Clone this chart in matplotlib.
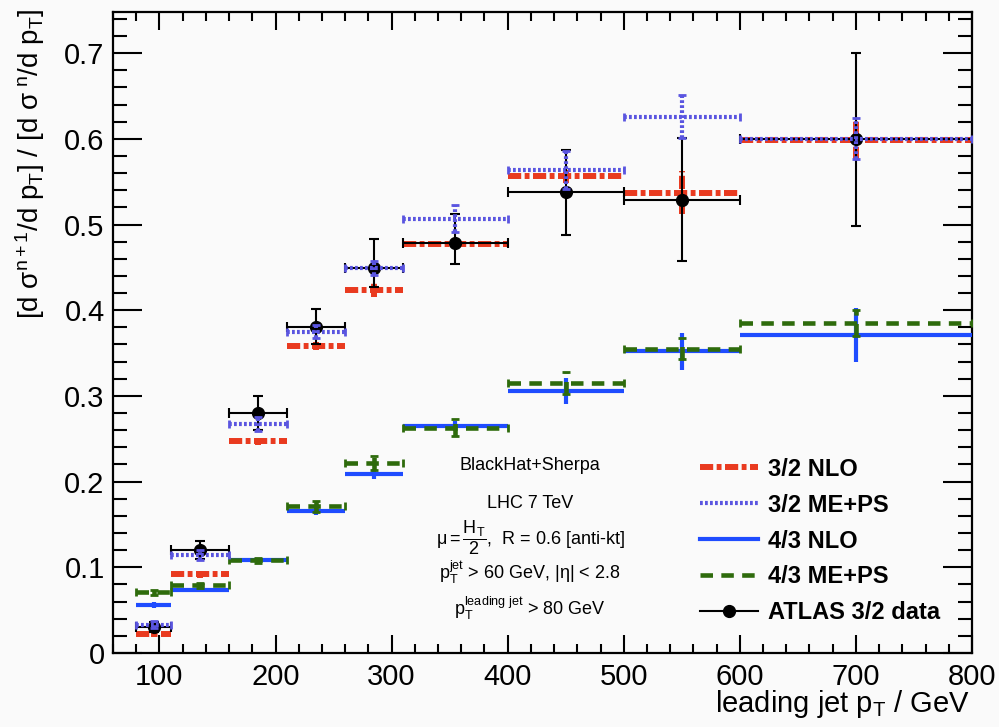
import numpy as np
import matplotlib
matplotlib.use("Agg")
import matplotlib.pyplot as plt
from matplotlib.lines import Line2D
from matplotlib.ticker import MultipleLocator, FuncFormatter

plt.rcParams['font.family'] = ['Liberation Sans', 'DejaVu Sans']
plt.rcParams['mathtext.fontset'] = 'custom'
plt.rcParams['mathtext.rm'] = 'Liberation Sans'
plt.rcParams['mathtext.it'] = 'Liberation Sans:italic'
plt.rcParams['mathtext.bf'] = 'Liberation Sans:bold'
plt.rcParams['lines.scale_dashes'] = False

# bins in leading jet pT (GeV)
bin_lo = [80, 110, 160, 210, 260, 310, 400, 500, 600]
bin_hi = [110, 160, 210, 260, 310, 400, 500, 600, 800]

# 3/2 ratio, NLO
nlo32 = [0.022, 0.092, 0.247, 0.358, 0.424, 0.477, 0.557, 0.537, 0.599]
nlo32_err = [0.003, 0.004, 0.004, 0.005, 0.008, 0.005, 0.008, 0.025, 0.024]
# 3/2 ratio, ME+PS
meps32 = [0.033, 0.114, 0.267, 0.375, 0.449, 0.507, 0.564, 0.626, 0.600]
meps32_err = [0.004, 0.006, 0.008, 0.008, 0.008, 0.016, 0.022, 0.025, 0.024]
# 4/3 ratio, NLO
nlo43 = [0.056, 0.074, 0.108, 0.166, 0.209, 0.265, 0.306, 0.352, 0.371]
nlo43_err = [0.003, 0.003, 0.003, 0.005, 0.006, 0.006, 0.015, 0.022, 0.032]
# 4/3 ratio, ME+PS
meps43 = [0.071, 0.079, 0.108, 0.171, 0.222, 0.263, 0.315, 0.355, 0.385]
meps43_err = [0.003, 0.003, 0.003, 0.006, 0.008, 0.010, 0.013, 0.012, 0.015]
# ATLAS 3/2 data
atlas = [0.030, 0.120, 0.280, 0.380, 0.449, 0.478, 0.538, 0.529, 0.600]
atlas_up = [0.006, 0.011, 0.020, 0.022, 0.034, 0.034, 0.049, 0.072, 0.100]
atlas_dn = [0.006, 0.010, 0.020, 0.020, 0.022, 0.024, 0.050, 0.072, 0.102]

lo = np.array(bin_lo)
hi = np.array(bin_hi)
xc = (lo + hi) / 2
xw = (hi - lo) / 2

RED = '#e93a1f'
PURPLE = '#5a55e0'
BLUE = '#1f4cff'
GREEN = '#2e6b0c'

red_ls = (0, (9.5, 2.5, 3.5, 2.5))
pur_ls = (0, (2.0, 1.6))
grn_ls = (0, (9.0, 6.0))

fig = plt.figure(figsize=(9.99, 7.27), dpi=100, facecolor='#fafafa')
ax = fig.add_axes([113 / 999, 74 / 727, 859 / 999, 641 / 727])
ax.set_facecolor('#fafafa')


def theory(y, err, color, lw, ls, cap, z):
    eb = ax.errorbar(xc, y, xerr=xw, yerr=err, fmt='none', ecolor=color,
                     elinewidth=lw, capsize=cap, capthick=2.0, zorder=z)
    for col in eb[2]:
        col.set_linestyle(ls)
    return eb


theory(nlo32, nlo32_err, RED, 4.3, red_ls, 0, 2)
theory(nlo43, nlo43_err, BLUE, 3.0, 'solid', 0, 3)
theory(meps43, meps43_err, GREEN, 3.3, grn_ls, 3, 4)
ax.errorbar(xc, atlas, xerr=xw, yerr=[atlas_dn, atlas_up], fmt='o', color='black',
            ms=8.5, elinewidth=1.5, capsize=3.5, capthick=1.5, zorder=5)
theory(meps32, meps32_err, PURPLE, 3.0, pur_ls, 3, 6)

ax.set_xlim(60, 800)
ax.set_ylim(0, 0.748)
ax.xaxis.set_major_locator(MultipleLocator(100))
ax.xaxis.set_minor_locator(MultipleLocator(20))
ax.yaxis.set_major_locator(MultipleLocator(0.1))
ax.yaxis.set_minor_locator(MultipleLocator(0.02))
ax.yaxis.set_major_formatter(FuncFormatter(lambda v, p: '0' if abs(v) < 1e-9 else '%.1f' % v))
ax.tick_params(axis='both', which='both', direction='in', top=True, right=True,
               width=1.5, labelsize=21, colors='black')
ax.tick_params(axis='x', which='major', length=13, pad=7)
ax.tick_params(axis='x', which='minor', length=6.5)
ax.tick_params(axis='y', which='major', length=21, pad=6)
ax.tick_params(axis='y', which='minor', length=10)
for s in ax.spines.values():
    s.set_linewidth(1.6)

# axis titles
fig.text(970 / 999, 1 - 712 / 727, r'leading jet p$_\mathrm{T}$ / GeV', fontsize=21,
         ha='right', va='baseline')
fig.text(30 / 999, 1 - 8 / 727,
         r'[d $\mathrm{\sigma}^\mathrm{n+1}$/d p$_\mathrm{T}$] / [d $\mathrm{\sigma}^\mathrm{\ n}$/d p$_\mathrm{T}$]',
         fontsize=20, rotation=90, ha='center', va='top')

# process info
info_x = 530 / 999
fig.text(info_x, 1 - 465 / 727, 'BlackHat+Sherpa', fontsize=13, ha='center', va='center')
fig.text(info_x, 1 - 503 / 727, 'LHC 7 TeV', fontsize=13, ha='center', va='center')
fig.text(info_x, 1 - 538 / 727, r'$\mathrm{\mu} = \dfrac{\mathrm{H_T}}{2}$,  R = 0.6 [anti-kt]',
         fontsize=13, ha='center', va='center')
fig.text(info_x, 1 - 572 / 727, r'p$_\mathrm{T}^\mathrm{jet}$ > 60 GeV, |$\mathrm{\eta}$| < 2.8',
         fontsize=13, ha='center', va='center')
fig.text(info_x, 1 - 608 / 727, r'p$_\mathrm{T}^\mathrm{leading\ jet}$ > 80 GeV',
         fontsize=13, ha='center', va='center')

handles = [
    Line2D([], [], color=RED, lw=4.3, ls=red_ls),
    Line2D([], [], color=PURPLE, lw=3.0, ls=pur_ls),
    Line2D([], [], color=BLUE, lw=3.0),
    Line2D([], [], color=GREEN, lw=3.3, ls=grn_ls),
    Line2D([], [], color='black', lw=1.5, marker='o', ms=8.5),
]
labels = ['3/2 NLO', '3/2 ME+PS', '4/3 NLO', '4/3 ME+PS', 'ATLAS 3/2 data']
fig.legend(handles, labels, loc='center left', bbox_to_anchor=(700 / 999, 1 - 541 / 727),
           bbox_transform=fig.transFigure, frameon=False, borderpad=0, borderaxespad=0,
           handlelength=2.45, handletextpad=0.42, labelspacing=0.55,
           prop={'weight': 'bold', 'size': 17})

fig.savefig('out.png', dpi=100, facecolor=fig.get_facecolor())
